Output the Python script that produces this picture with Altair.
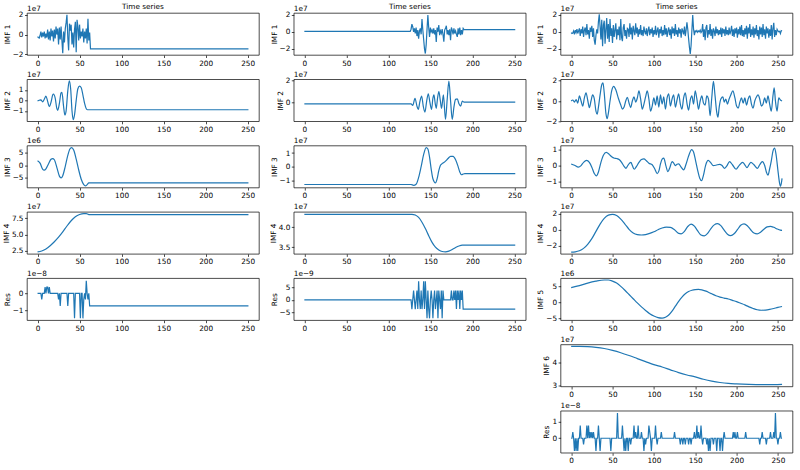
import altair as alt
import pandas as pd

FONT = "DejaVu Sans"
FS = 7.3
BLUE = "#1f77b4"
MINUS = "\u2212"

XT = [0, 50, 100, 150, 200, 250]
XDOM_A = [-12.55, 263.55]
XDOM_C = [-12.75, 267.75]

# ---------------- Column 1 ----------------
c1_imf1_x = list(range(0, 64)) + [251]
c1_imf1_y = [-0.2, -0.3, -0.35, -0.1, 0.3, -0.3, 0.2, -0.2, 0.3, -0.4,
             0.1, -0.3, 0.5, -0.5, 0.3, -0.6, 0.6, -0.2, 0.4, -0.7,
             0.5, -0.4, 0.8, 0.0, 0.6, -1.0, 0.7, -0.5, 0.8, -0.6,
             -1.9, 0.3, -0.8, 0.6, 1.2, 2.0, -0.3, -1.6, 1.1, 0.4,
             1.0, -1.0, 0.2, -1.3, 0.5, 1.3, -1.8, 1.5, 0.8, -0.6,
             1.0, -0.4, 0.3, -0.2, 0.6, -0.8, 0.3, -0.4, 0.6, -0.9,
             1.6, -0.6, 0.2, -1.45, -1.45]

c1_imf2_x = [0, 2, 4, 6, 8, 10, 12, 14, 16, 18, 19, 21, 23, 24, 26, 28, 29, 31, 32.5, 34, 36, 37.8,
             39.5, 41, 42.5, 44, 46, 48, 50, 52, 54, 56, 58, 59.5, 251]
c1_imf2_y = [-0.05, 0.0, 0.05, -0.15, 0.1, 0.4, -0.1, -0.6, -0.2, 0.5, 0.6, 0.2, -0.8, -0.95, -0.3, 0.7,
             0.75, -0.6, -1.4, -1.0, 0.9, 1.85, 1.0, -1.0, -1.85, -1.4, 0.0, 1.1, 1.35, 1.2, 0.5, -0.3,
             -0.8, -0.9, -0.9]

c1_imf3_x = [0, 3, 6, 8, 10, 13, 16, 18, 20, 23, 26, 28, 30, 33, 36, 38.5, 40.5, 43, 46, 49, 52, 55,
             57, 59, 61, 63, 251]
c1_imf3_y = [1.8, 0.8, -1.6, -2.05, -1.5, 0.5, 2.4, 2.7, 2.2, -1.0, -4.5, -5.2, -4.3, -0.5, 4.0, 6.6,
             7.2, 6.2, 2.5, -2.0, -5.8, -8.0, -8.5, -8.0, -7.3, -7.25, -7.25]

c1_imf4_x = [0, 5, 10, 15, 20, 25, 30, 35, 40, 45, 50, 55, 58, 61, 251]
c1_imf4_y = [2.35, 2.5, 2.8, 3.3, 3.9, 4.6, 5.4, 6.3, 7.1, 7.7, 8.05, 8.2, 8.2, 8.05, 8.05]

c1_res_x = list(range(0, 63)) + [251]
c1_res_y = [0, 0, 0, 0, 0, -0.37, 0, 0, 0, 0.37,
            0, 0.37, 0.37, 0, 0.37, 0, 0, 0, 0, 0,
            0, 0, 0, 0, 0, -0.37, 0, -0.75, 0, 0,
            0, 0, 0, 0, 0, 0, -0.75, 0, 0, 0,
            0, 0, 0, 0, -1.49, 0, 0, 0, 0, 0,
            0, -1.49, 0, 0, -1.49, -0.37, 0, -0.37, 0.75, 0,
            -0.37, 0, -0.75, -0.75]

# ---------------- Column 2 ----------------
c2_imf1_x = [0] + list(range(126, 191)) + [251]
c2_imf1_y = [0.05,
             0.05, 0.3, 0.9, 0.6, 0.0, 0.4, -0.2, 0.5, -0.5, 0.2,
             -0.8, 0.1, 0.4, -0.3, 1.5, 0.2, -0.9, -2.0, -2.55, -1.5,
             0.3, 1.95, 0.5, -0.6, 0.5, 0.0, 0.2, -0.2, 0.4, -0.3,
             0.2, -1.2, 0.5, 0.0, 0.8, -0.4, 0.1, -0.2, 0.3, -0.3,
             -1.15, 0.2, 0.4, 0.7, -0.3, 0.2, -0.4, 0.3, -1.0, 0.5,
             0.2, -0.3, 0.4, -0.2, 0.1, -0.3, -0.6, 0.4, -0.3, 0.5,
             -0.4, 0.2, -0.3, 0.4, 0.25,
             0.25]

c2_imf2_x = [0, 127, 129, 131.7, 134, 135.6, 137.5, 139.6, 141.5, 143.5, 145.5, 147.5, 149.5, 151.4,
             153, 154.2, 155.8, 157, 158.5, 160.1, 161.8, 163.3, 165.5, 168, 170, 172, 174, 176, 178,
             180, 182, 184, 186, 188, 190, 251]
c2_imf2_y = [-0.1, -0.1, -0.25, 0.4, -0.3, -0.6, 0.1, 0.6, -0.3, -0.85, 0.1, 0.8, 0.0, -0.6, 0.4, 0.7,
             -0.1, -0.5, 0.4, 1.0, 0.2, -0.5, 0.7, -1.5, 0.3, 1.93, 0.2, -1.5, -0.4, 0.3, 0.35, -0.1,
             -0.3, 0.15, 0.05, 0.05]

c2_imf3_x = [0, 127, 130, 133, 136, 139, 142, 145, 147, 149, 151, 153, 156, 158, 160, 162, 164, 166,
             168, 171, 174, 177, 180, 183, 185, 187, 189, 191, 251]
c2_imf3_y = [-1.32, -1.32, -1.38, -1.3, -0.8, 0.0, 0.9, 1.4, 1.3, 0.7, -0.2, -0.9, -1.2, -0.9, -0.3,
             0.1, 0.22, 0.3, 0.4, 0.6, 0.75, 0.75, 0.5, 0.0, -0.4, -0.6, -0.55, -0.52, -0.52]

c2_imf4_x = [0, 128, 132, 136, 140, 144, 148, 152, 156, 160, 164, 168, 172, 176, 180, 184, 188, 251]
c2_imf4_y = [4.33, 4.33, 4.31, 4.25, 4.13, 3.97, 3.79, 3.62, 3.5, 3.43, 3.39, 3.38, 3.40, 3.44, 3.49,
             3.53, 3.55, 3.55]

c2_res_x = [0] + list(range(127, 191)) + [251]
c2_res_y = [0,
            0, -3.73, 0, 3.73, 0, -3.73, 0, 3.73, -3.73, 7.45,
            0, -3.73, 3.73, -3.73, 0, 7.45, -3.73, 7.45, 0, -7.45,
            3.73, -3.73, -7.45, 0, 3.73, 0, -7.45, 0, 3.73, -3.73,
            0, 3.73, -7.45, 3.73, 0, -3.73, 3.73, -7.45, 3.73, 0,
            0, 0, 0, 0, 0, 0, 0, 0, 3.73, 0,
            0, 3.73, 0, 3.73, -3.73, 3.73, 0, 3.73, -3.73, 3.73,
            0, 3.73, -3.73, -3.73,
            -3.73]

# ---------------- Column 3 ----------------
c3_imf1_x = list(range(0, 256))
c3_imf1_y = [-0.1, -0.2, -0.15, 0.1, -0.3, 0.2, -0.1, 0.3, -0.2, 0.1,
             0.4, -0.5, 0.3, -0.2, 0.6, -0.6, 0.2, 0.5, -0.4, 0.9,
             -0.3, 0.2, -0.8, 0.5, 0.0, 0.7, -0.6, 0.4, -1.0, -1.5,
             -0.4, 0.3, -0.2, 1.2, 2.05, 0.6, -0.9, 1.4, -1.7, 0.8,
             1.3, -1.4, 0.3, 1.6, -0.8, 0.9, -1.2, 1.5, -0.5, 0.4,
             -1.3, 0.8, -0.6, 0.2, 1.0, -0.9, 0.3, -0.4, 0.6, -1.0,
             1.5, -0.7, -1.1, 0.5, 0.9, -0.5, 0.2, -0.8, 0.4, 0.3,
             -0.6, 1.0, -0.3, 0.5, -0.9, 0.7, 0.1, -0.4, 1.0, -0.2,
             0.5, -0.6, 0.3, -0.3, 0.8, -0.4, 0.2, -0.5, 0.6, 0.0,
             -0.3, 0.4, -0.5, 0.2, 0.6, -0.4, 0.3, -0.2, 0.5, -0.6,
             0.2, -0.3, 0.7, -0.4, 0.1, 0.5, -0.7, 0.3, -0.2, 0.6,
             -0.5, 0.2, -0.4, 0.8, -0.3, 0.4, -0.6, 0.1, 0.5, -0.4,
             0.3, -0.8, 0.6, -0.2, 0.4, -0.5, 0.9, -0.3, 0.2, -0.6,
             0.5, -0.2, 0.3, -0.7, 0.4, 0.1, -0.3, 0.6, -0.5, 0.2,
             1.1, 0.3, -0.8, -1.8, -2.6, -1.6, 0.2, 1.95, 0.3, -0.4,
             0.1, 0.0, 0.15, -0.05, 0.1, 0.0, 0.2, -0.1, 0.05, 0.9,
             -0.6, 0.3, -1.0, 0.5, 0.8, -0.7, 0.2, -0.3, 0.9, -0.5,
             0.3, -0.8, 0.4, 0.1, -0.5, 0.6, -0.2, 0.3, -0.4, 0.2,
             -0.3, 0.5, -0.6, 0.4, -0.2, 0.3, -0.5, 0.6, -0.3, 0.2,
             -0.4, 0.5, -0.3, 0.1, 0.7, -0.5, 0.3, -0.6, 0.4, -0.2,
             0.5, -0.7, 0.3, -0.3, 0.6, -0.4, 0.8, -0.5, 0.2, -0.6,
             0.4, -0.3, 0.7, -0.8, 0.5, -0.2, 0.9, -0.6, 0.3, -0.4,
             0.6, -0.7, 0.4, -0.3, 0.8, -0.5, 0.2, -0.9, 0.6, -0.3,
             0.5, -0.6, 0.9, -0.4, 0.3, -0.8, 0.6, -0.2, 0.4, -0.7,
             0.3, -0.5, 0.8, -0.9, 0.4, 1.05, -0.6, 0.2, -0.4, 0.3,
             0.1, 0.0, 0.05, -0.2, 0.15, 0.1]

c3_imf2_x = [0, 2, 4, 6, 8, 10, 12, 14, 16, 18, 20, 22, 24, 26, 28, 30, 31.5, 33, 35, 37, 38.5, 40,
             42, 43.5, 45, 47, 49, 51.5, 54, 57, 60, 62, 64, 66, 68, 70, 72, 74, 76, 78, 80, 82, 84,
             86, 88, 90, 92, 94, 96, 98, 100, 102, 104, 106, 108, 110, 112, 114, 116, 118, 120, 122,
             124, 126, 128, 130, 132, 134, 136, 138, 140, 142, 144, 146, 148, 150, 152, 154, 156, 158,
             160, 162, 164, 166, 168, 170, 172, 174, 176, 177.5, 179, 181, 183.5, 185, 187, 189, 191,
             193, 195.5, 198, 200, 202, 204, 206, 208, 210, 212, 214, 216, 218, 220, 222, 224, 226,
             228, 230, 232, 234, 236, 238, 240, 242, 244, 245.5, 247, 249, 251, 253, 255]
c3_imf2_y = [0.0, 0.1, -0.1, 0.15, -0.2, 0.5, 0.0, -0.5, 0.3, 0.8, 0.1, -0.65, 0.0, 0.6, 0.2, -1.0,
             -1.3, -0.6, 0.6, 1.6, 1.8, 0.8, -1.2, -1.75, -1.2, 0.0, 1.0, 1.45, 1.1, 0.3, -0.4, -0.8,
             -0.6, 0.0, 0.35, -0.2, -0.65, 0.0, 0.4, -0.1, 0.3, 1.0, 0.2, -0.8, -0.3, 0.4, 1.0, 0.2,
             -1.0, -0.5, 0.3, -0.4, 0.5, -0.6, 0.6, -0.3, 0.4, -0.8, 0.3, 0.7, -0.5, 0.2, 0.6, -0.6,
             0.1, 0.7, -0.3, -0.8, 0.3, 0.8, -0.2, -0.9, 0.1, 0.5, -0.3, 1.0, 0.2, -0.8, 0.0, 0.5,
             -0.2, -0.4, 0.5, 0.2, -1.45, 0.3, 1.94, 0.5, -1.1, -1.6, -0.6, 0.2, 0.4, -0.1, 0.2, -0.3,
             0.2, 0.6, 1.0, 0.3, -0.5, -0.7, -0.1, 0.3, -0.2, 0.3, -0.4, 0.2, 0.5, -0.3, -0.7, 0.0,
             0.4, 0.6, 0.2, -0.5, -0.3, 0.3, -0.2, 0.5, -0.3, -1.0, 0.5, 1.3, 0.0, -1.0, 0.3, 0.1, 0.0]

c3_imf3_x = [0, 4, 8.7, 12, 15, 18.7, 22, 25, 28, 30.6, 33, 36, 39, 42.5, 46, 49, 52.4, 55, 58.4, 61,
             64, 66.3, 69, 72.3, 74, 76.3, 79, 82, 85, 88, 91, 94, 98, 101, 104, 106, 108, 110, 112,
             114.5, 117, 119.5, 122, 124, 126, 128, 130, 133, 136, 139, 142, 145.8, 148, 150.5, 153,
             155.5, 157.7, 160, 162.5, 165.7, 168.5, 171.6, 175, 179.6, 182.5, 185.5, 188.5, 191.5,
             195, 199.4, 203, 207.4, 210, 212.6, 215, 217.3, 221, 225.3, 228, 231.2, 234, 236, 238,
             240, 242, 244, 246, 248, 250, 252, 253, 254, 255]
c3_imf3_y = [0.1, 0.02, -0.1, 0.0, 0.2, 0.32, 0.2, -0.1, -0.5, -0.65, -0.4, 0.2, 0.65, 0.82, 0.7, 0.55,
             0.46, 0.44, 0.36, 0.2, -0.05, -0.17, 0.05, 0.2, 0.0, -0.23, -0.05, 0.2, 0.38, 0.42, 0.3,
             0.15, 0.05, -0.2, -0.5, -0.35, 0.1, 0.4, 0.46, 0.0, -0.38, -0.1, 0.25, 0.15, 0.0, 0.08,
             0.1, -0.1, -0.27, 0.1, 0.6, 1.0, 0.85, 0.3, -0.3, -0.8, -0.95, -0.6, 0.0, 0.32, 0.2, 0.0,
             0.02, 0.08, 0.0, -0.17, 0.0, 0.25, 0.05, -0.23, 0.0, 0.2, 0.05, -0.13, 0.05, 0.2, 0.05,
             -0.17, 0.05, 0.25, 0.0, -0.4, -0.6, -0.2, 0.3, 0.9, 1.1, 0.6, -0.3, -1.1, -1.3, -1.15,
             -0.8]

c3_imf4_x = [0, 5, 10, 15, 20, 25, 30, 35, 40, 45, 50, 55, 60, 65, 70, 75, 80, 85, 90, 95, 100, 105,
             110, 115, 120, 125, 130, 133, 137, 141, 145, 149, 153, 157, 161, 165, 169, 173, 177, 181,
             185, 189, 193, 197, 201, 205, 209, 213, 217, 221, 225, 229, 233, 237, 241, 245, 249, 253,
             255]
c3_imf4_y = [-2.75, -2.72, -2.6, -2.3, -1.8, -1.1, -0.2, 0.7, 1.4, 1.8, 1.9, 1.75, 1.3, 0.7, 0.05,
             -0.4, -0.6, -0.65, -0.6, -0.45, -0.25, 0.0, 0.22, 0.33, 0.3, 0.0, -0.45, -0.5, -0.2, 0.4,
             0.7, 0.45, -0.15, -0.65, -0.75, -0.45, 0.15, 0.6, 0.75, 0.5, -0.05, -0.55, -0.72, -0.5,
             0.0, 0.55, 0.72, 0.5, 0.0, -0.4, -0.5, -0.3, 0.05, 0.35, 0.42, 0.3, 0.1, -0.05, -0.08]

c3_imf5_x = [0, 10, 20, 30, 40, 45, 50, 55, 60, 65, 70, 75, 80, 85, 90, 95, 100, 105, 110, 114, 118,
             122, 126, 130, 134, 138, 142, 146, 150, 154, 158, 162, 166, 170, 175, 180, 185, 190, 195,
             200, 205, 210, 215, 220, 225, 230, 235, 240, 245, 250, 255]
c3_imf5_y = [4.5, 5.1, 5.9, 6.5, 6.85, 6.85, 6.5, 5.9, 4.9, 3.7, 2.4, 1.1, -0.2, -1.4, -2.5, -3.5,
             -4.2, -4.7, -4.85, -4.6, -3.9, -2.7, -1.2, 0.3, 1.6, 2.6, 3.3, 3.7, 3.9, 3.95, 3.8, 3.5,
             3.1, 2.6, 2.0, 1.6, 1.3, 1.0, 0.6, 0.2, -0.3, -0.8, -1.4, -1.9, -2.3, -2.45, -2.4, -2.2,
             -1.9, -1.55, -1.3]

c3_imf6_x = [0, 10, 20, 30, 40, 50, 60, 70, 80, 90, 100, 110, 120, 130, 140, 150, 160, 170, 180, 190,
             200, 215, 230, 245, 255]
c3_imf6_y = [4.68, 4.68, 4.67, 4.64, 4.59, 4.51, 4.41, 4.29, 4.16, 4.03, 3.9, 3.8, 3.68, 3.56, 3.46,
             3.38, 3.28, 3.2, 3.14, 3.1, 3.08, 3.06, 3.05, 3.05, 3.06]

c3_res_x = list(range(0, 256))
c3_res_y = [0, 0, 0.37, 0, -0.75, 0, -0.75, 0, -0.75, 0, 0, 0.75, 0, 0, 0, -0.37,
            0, 0, 0, 0.75, 0, 0.75, 0, 0.37, 0, 0.37, 0, 0.37, 0, 0, -0.75, 0,
            0, 0.75, 0, -0.75, 0, 0, 0, 0, 0, 0, 0, 0, 0, 0, 0, 0,
            -0.75, 0, 0, 0, 0, 0, 0, 0, 1.49, 0, 0, 0, 0, 0, 0.75, 0,
            -0.75, 0, -0.75, 0, 0, -0.75, 0, 0, -0.37, 0, 0, 0, 0.75, 0, 0.37, 0,
            0, 0.75, 0, 0, 0, 0.37, 0, 0, -0.75, 0, -0.37, 0, 0, 0, 0.75, 0.37,
            0, -0.75, 0, 0, 0, 0, 0.75, 0, -0.37, 0, 0, 0, 0, 0.37, 0, 0,
            0, 0, 0, 0, 0, 0, 0, 0, 0, 0, 0, 0, 0, 0.37, 0, 0,
            0, 0, 0, 0, -0.37, 0, 0, -0.37, 0, 0, -0.37, 0, 0, 0, -0.37, 0,
            0, -0.37, 0, 0, 0, 0.37, 0, 0, 0.75, 0, 0.37, 0, 0, 0.75, 0, -0.37,
            0, 0, 0, 0, -0.37, 0, -0.75, 0, -0.75, 0, 0, 0, -0.37, 0, 0, 0,
            -0.75, 0, 0, 0, -0.75, 0, 0, -0.75, 0, 0.37, 0, 0, 0, 0, 0, 0,
            0, 0, 0, 0, 0.37, 0, 0.37, 0, 0, 0.37, 0, 0, 0, 0, 0, 0,
            0, 0, 0, 0.37, 0, 0, 0, 0, 0, 0, 0, 0, 0, 0, 0, 0,
            0, 0, 0, 0, -0.37, 0, 0, 0.37, 0, 0, 0, 0, -0.37, 0, 0, 0,
            0, 0.37, 0, 0, 0, 0.37, 0, 1.49, 0, 0, -0.37, 0, 0, 0.37, 0, 0]

W = 232
H = 42


def panel(xs, ys, xdom, ydom, yticks, fmt, ylabel, offset, title=None, smooth=False):
    df = pd.DataFrame({"x": xs, "y": ys})
    lab = "replace(format(datum.value, '%s'), '-', '%s')" % (fmt, MINUS)
    interp = "monotone" if smooth else "linear"
    line = alt.Chart(df).mark_line(color=BLUE, strokeWidth=1.2, interpolate=interp).encode(
        x=alt.X("x:Q", scale=alt.Scale(domain=xdom, nice=False, zero=False),
                axis=alt.Axis(values=XT, format="d", title=None)),
        y=alt.Y("y:Q", scale=alt.Scale(domain=ydom, nice=False, zero=False),
                axis=alt.Axis(values=yticks, title=ylabel, labelExpr=lab)),
    )
    off = alt.Chart(pd.DataFrame({"t": [offset]})).mark_text(
        align="left", baseline="alphabetic", font=FONT, fontSize=FS, color="black"
    ).encode(x=alt.value(0), y=alt.value(-2.5), text="t:N")
    layers = [line, off]
    if title:
        tt = alt.Chart(pd.DataFrame({"t": [title]})).mark_text(
            align="center", baseline="alphabetic", font=FONT, fontSize=FS, color="black"
        ).encode(x=alt.value(W / 2), y=alt.value(-4.5), text="t:N")
        layers.append(tt)
    return alt.layer(*layers).properties(width=W, height=H)


def blank():
    return alt.Chart(pd.DataFrame({"a": [0]})).mark_point(opacity=0).encode(
        x=alt.X("a:Q", axis=None), y=alt.Y("a:Q", axis=None)
    ).properties(width=W, height=H, view=alt.ViewBackground(stroke=None))


E7 = "1e7"
E6 = "1e6"
E8 = "1e" + MINUS + "8"
E9 = "1e" + MINUS + "9"

col1 = [
    panel(c1_imf1_x, c1_imf1_y, XDOM_A, [-2.07, 2.18], [-2, 0, 2], "d", "IMF 1", E7, "Time series"),
    panel(c1_imf2_x, c1_imf2_y, XDOM_A, [-2.0, 2.0], [-1, 0, 1], "d", "IMF 2", E7, smooth=True),
    panel(c1_imf3_x, c1_imf3_y, XDOM_A, [-9.2, 8.0], [-5, 0, 5], "d", "IMF 3", E6, smooth=True),
    panel(c1_imf4_x, c1_imf4_y, XDOM_A, [2.05, 8.45], [2.5, 5.0, 7.5], ".1f", "IMF 4", E7, smooth=True),
    panel(c1_res_x, c1_res_y, XDOM_A, [-1.6, 0.9], [-1, 0], "d", "Res", E8),
    blank(),
    blank(),
]
col2 = [
    panel(c2_imf1_x, c2_imf1_y, XDOM_A, [-2.72, 2.2], [-2, 0, 2], "d", "IMF 1", E7, "Time series"),
    panel(c2_imf2_x, c2_imf2_y, XDOM_A, [-1.66, 2.09], [0, 2], "d", "IMF 2", E7, smooth=True),
    panel(c2_imf3_x, c2_imf3_y, XDOM_A, [-1.55, 1.55], [-1, 0, 1], "d", "IMF 3", E7, smooth=True),
    panel(c2_imf4_x, c2_imf4_y, XDOM_A, [3.33, 4.39], [3.5, 4.0], ".1f", "IMF 4", E7, smooth=True),
    panel(c2_res_x, c2_res_y, XDOM_A, [-8.2, 8.7], [-5, 0, 5], "d", "Res", E9),
    blank(),
    blank(),
]
col3 = [
    panel(c3_imf1_x, c3_imf1_y, XDOM_C, [-2.72, 2.2], [-2, 0, 2], "d", "IMF 1", E7, "Time series"),
    panel(c3_imf2_x, c3_imf2_y, XDOM_C, [-2.0, 2.14], [-2, 0, 2], "d", "IMF 2", E7, smooth=True),
    panel(c3_imf3_x, c3_imf3_y, XDOM_C, [-1.38, 1.25], [-1, 0, 1], "d", "IMF 3", E7, smooth=True),
    panel(c3_imf4_x, c3_imf4_y, XDOM_C, [-2.98, 2.2], [-2, 0, 2], "d", "IMF 4", E7, smooth=True),
    panel(c3_imf5_x, c3_imf5_y, XDOM_C, [-5.5, 7.4], [-5, 0, 5], "d", "IMF 5", E6, smooth=True),
    panel(c3_imf6_x, c3_imf6_y, XDOM_C, [2.97, 4.76], [3, 4], "d", "IMF 6", E7, smooth=True),
    panel(c3_res_x, c3_res_y, XDOM_C, [-0.86, 1.62], [0, 1], "d", "Res", E8),
]

cells = []
for r in range(7):
    cells.extend([col1[r], col2[r], col3[r]])

chart = alt.concat(
    *cells, columns=3, spacing={"row": 24.3, "column": 34.8}, bounds="flush"
).properties(
    padding={"left": 2, "top": 2, "right": 4, "bottom": 4},
    background="white",
).configure_view(
    stroke="black", strokeWidth=0.7
).configure_axis(
    domain=False, grid=False, tickColor="black", tickSize=2.5, tickWidth=0.7,
    labelFont=FONT, labelFontSize=FS, labelColor="black", labelPadding=1.5,
    titleFont=FONT, titleFontSize=FS, titleFontWeight="normal", titleColor="black",
    titlePadding=1, labelOverlap=False,
)

chart.save("out.html", embed_options={"renderer": "svg", "actions": False})
